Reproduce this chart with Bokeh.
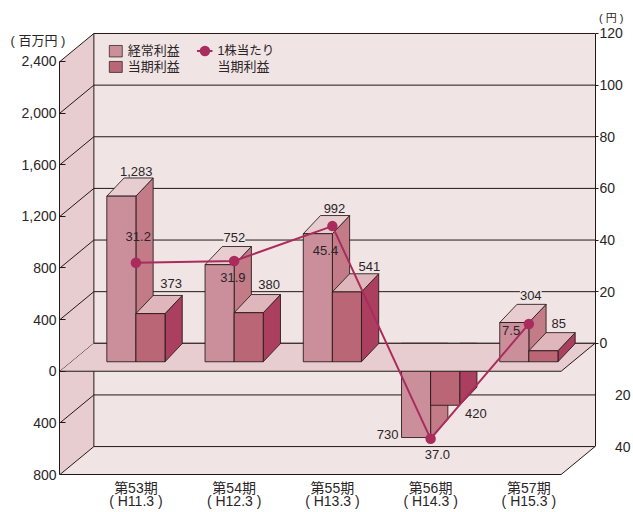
from bokeh.embed import file_html
from bokeh.resources import INLINE
from bokeh.plotting import figure
from bokeh.models import Range1d, LinearAxis, FixedTicker, Label, NumeralTickFormatter, Title

# ---- values ----
periods = ["第53期", "第54期", "第55期", "第56期", "第57期"]
fiscal = ["( H11.3 )", "( H12.3 )", "( H13.3 )", "( H14.3 )", "( H15.3 )"]
ordinary_profit = [1283, 752, 992, -730, 304]
net_profit = [373, 380, 541, -420, 85]
eps = [31.2, 31.9, 45.4, -37.0, 7.5]
left_ticks = [-800, -400, 0, 400, 800, 1200, 1600, 2000, 2400]
right_ticks = [-40, -20, 0, 20, 40, 60, 80, 100, 120]

# ---- palette ----
WALL = "#f1e4e5"
SIDE = "#e7cdd0"
BAR1_FRONT, BAR1_TOP, BAR1_SIDE = "#cb8f9c", "#e7cdd0", "#c27b87"
BAR2_FRONT, BAR2_TOP, BAR2_SIDE = "#ba6676", "#dfb6bc", "#aa3f5f"
LINE = "#a92c5c"
INK = "#231815"
TEXT = "#2b2527"
FONT = "Liberation Sans, Noto Sans CJK JP"

# ---- projection: x is in page pixels, y is in millions of yen on the front plane ----
PX_PER_M = 51.75 / 400
ZERO_ROW = 371.5
DEPTH_X, DEPTH_Y = 34, 28
FRONT_L, BACK_L, BACK_R = 59.5, 93.5, 596.5
FRONT_R = BACK_R - DEPTH_X
BAR_LEFT, BAR_STEP, BAR_W = 106.5, 98.6, 29.2
BAR_DX, BAR_DY = 17.3, 18.2
BASE_LIFT = 9.5


def row(pixel_y):
    return (ZERO_ROW - pixel_y) / PX_PER_M


def up(pixels):
    return pixels / PX_PER_M


p = figure(width=633, height=512, output_backend="svg", toolbar_location=None,
           x_axis_type=None, y_axis_type=None,
           x_range=Range1d(59, 597), y_range=Range1d(row(476), row(32)),
           min_border_left=59, min_border_right=36, min_border_top=32, min_border_bottom=36,
           background_fill_color="white", outline_line_color=None)
p.extra_y_ranges["eps"] = Range1d((row(476) - up(DEPTH_Y)) * PX_PER_M * 20 / 51.75,
                                  (row(32) - up(DEPTH_Y)) * PX_PER_M * 20 / 51.75)

# walls
top_back, bot_back = row(33), row(447)
p.patch([BACK_L, BACK_R, BACK_R, BACK_L], [top_back, top_back, bot_back, bot_back],
        fill_color=WALL, line_color=None)
p.patch([FRONT_L, BACK_L, BACK_L, FRONT_L], [2400, top_back, bot_back, -800],
        fill_color=SIDE, line_color=None)
p.patch([FRONT_L, BACK_L, BACK_R, FRONT_R], [-800, bot_back, bot_back, -800],
        fill_color=WALL, line_color=None)

# back wall levels on the per-share scale, side wall diagonals on the left scale
for lv in right_ticks:
    p.line([BACK_L, BACK_R], [lv, lv], y_range_name="eps", line_color=INK, line_width=1)
p.segment([FRONT_L] * len(left_ticks), left_ticks, [BACK_L] * len(left_ticks),
          [t + up(DEPTH_Y) for t in left_ticks], line_color=INK, line_width=1)
p.line([BACK_L, BACK_L], [top_back, bot_back], line_color=INK, line_width=1)


def box(x, w, base, height, front, top, side):
    """One extruded bar; base is the row offset of its footprint, height in millions."""
    y0, y1 = base, base + height
    hi = max(y0, y1)
    d_x, d_y = BAR_DX, up(BAR_DY)
    # a bar hanging below zero is hidden behind the floor from the floor's back edge upwards
    ceiling = up(DEPTH_Y) if height < 0 else y0 + d_y
    p.patch([x + w, x + w + d_x, x + w + d_x, x + w], [y1, y1 + d_y, ceiling, ceiling if height < 0 else y0],
            fill_color=side, line_color=INK, line_width=1, line_alpha=0.85)
    if height > 0:
        p.patch([x, x + d_x, x + w + d_x, x + w], [hi, hi + d_y, hi + d_y, hi],
                fill_color=top, line_color=INK, line_width=1, line_alpha=0.85)
    p.patch([x, x + w, x + w, x], [y0, y0, y1, y1],
            fill_color=front, line_color=INK, line_width=1, line_alpha=0.85)


# loss-making period sits behind the floor
for i, (a, b) in enumerate(zip(ordinary_profit, net_profit)):
    if a < 0:
        x = BAR_LEFT + BAR_STEP * i
        box(x, BAR_W, up(DEPTH_Y), a, BAR1_FRONT, BAR1_TOP, BAR1_SIDE)
        box(x + BAR_W, BAR_W, up(DEPTH_Y - 7.8), b, BAR2_FRONT, BAR2_TOP, BAR2_SIDE)

# floor at zero
p.patch([FRONT_L, BACK_L, BACK_R, FRONT_R], [0, up(DEPTH_Y), up(DEPTH_Y), 0],
        fill_color=SIDE, line_color=None)
p.line([BACK_L, BACK_R], [up(DEPTH_Y), up(DEPTH_Y)], line_color=INK, line_width=1)
p.line([FRONT_L, FRONT_R, BACK_R], [0, 0, up(DEPTH_Y)], line_color=INK, line_width=1)
p.line([FRONT_L, FRONT_R, BACK_R], [-800, -800, bot_back], line_color=INK, line_width=1)

for i, (a, b) in enumerate(zip(ordinary_profit, net_profit)):
    if a > 0:
        x = BAR_LEFT + BAR_STEP * i
        box(x, BAR_W, up(BASE_LIFT), a, BAR1_FRONT, BAR1_TOP, BAR1_SIDE)
        box(x + BAR_W, BAR_W, up(BASE_LIFT), b, BAR2_FRONT, BAR2_TOP, BAR2_SIDE)

# per-share line
line_x = [round(BAR_LEFT + BAR_W + BAR_STEP * i, 1) for i in range(len(eps))]
p.line(line_x, eps, y_range_name="eps", line_color=LINE, line_width=2)
p.scatter(line_x, eps, y_range_name="eps", size=10.5, marker="circle",
          fill_color=LINE, line_color=None)

# axes
left = LinearAxis(ticker=FixedTicker(ticks=left_ticks),
                  formatter=NumeralTickFormatter(format="0,0"),
                  major_label_overrides={-400: "400", -800: "800"},
                  bounds=(-800, 2400), axis_line_color=INK, major_tick_line_color=INK,
                  major_tick_in=6, major_tick_out=0, minor_tick_line_color=None,
                  major_label_standoff=3, major_label_text_font=FONT,
                  major_label_text_font_size="14px", major_label_text_color=TEXT)
p.add_layout(left, "left")

# only the positive side of the per-share scale carries tick marks; the labels below zero sit further out
right = LinearAxis(y_range_name="eps",
                   ticker=FixedTicker(ticks=right_ticks, minor_ticks=[t for t in right_ticks if t >= 0]),
                   major_label_overrides={-20: "\u00a0\u00a0\u00a0\u00a020", -40: "\u00a0\u00a0\u00a0\u00a040"},
                   bounds=(-40, 120), axis_line_color=INK, major_tick_line_color=None,
                   major_tick_in=0, major_tick_out=3, minor_tick_line_color=INK,
                   minor_tick_in=0, minor_tick_out=3,
                   major_label_standoff=1, major_label_text_font=FONT,
                   major_label_text_font_size="14px", major_label_text_color=TEXT)
p.add_layout(right, "right")

bottom = LinearAxis(ticker=FixedTicker(ticks=line_x),
                    major_label_overrides={x: f"{a}\n{b}" for x, a, b in zip(line_x, periods, fiscal)},
                    axis_line_color=None, major_tick_line_color=None, minor_tick_line_color=None,
                    major_tick_in=0, major_tick_out=0, major_label_standoff=4,
                    major_label_text_font=FONT, major_label_text_font_size="14px",
                    major_label_text_line_height=0.85, major_label_text_color=TEXT)
p.add_layout(bottom, "below")

# unit captions for the two scales
p.add_layout(Title(text="( 百万円 )", align="left", offset=-49, vertical_align="bottom", standoff=-30,
                   text_font=FONT, text_font_size="13px", text_font_style="normal", text_color=TEXT), "above")
p.add_layout(Title(text="( 円 )", align="right", offset=-28, vertical_align="bottom", standoff=18,
                   text_font=FONT, text_font_size="11px", text_font_style="normal", text_color=TEXT), "above")


def put(text, x, y, size=13, align="center", bg=None):
    lab = Label(x=x, y=row(y), text=text, text_font=FONT, text_font_size=f"{size}px",
                text_color=TEXT, text_align=align, text_baseline="middle")
    if bg:
        lab.background_fill_color = bg
    p.add_layout(lab)


# value labels
for s, x, y, bg in [("1,283", 136, 171, None), ("373", 171, 284, None),
                    ("752", 234.5, 237.5, WALL), ("380", 269.5, 284.5, None),
                    ("992", 335, 208.5, None), ("541", 370, 266.7, None),
                    ("730", 388.3, 434.7, None), ("420", 477, 414, None),
                    ("304", 532, 295.7, WALL), ("85", 560, 323.7, None),
                    ("31.2", 138, 236.7, None), ("31.9", 233, 277.7, None),
                    ("45.4", 326, 250, None), ("37.0", 438.3, 455.3, None),
                    ("7.5", 512.3, 331, None)]:
    put(s, x, y, bg=bg)

# legend
for y0, y1, colour in [(45, 56.5, BAR1_FRONT), (61, 72, BAR2_FRONT)]:
    p.patch([109, 122, 122, 109], [row(y0), row(y0), row(y1), row(y1)],
            fill_color=colour, line_color=INK, line_width=1, line_alpha=0.7)
p.line([197, 212.5], [row(50.5), row(50.5)], line_color=LINE, line_width=2)
p.scatter([205], [row(50.5)], size=10.5, marker="circle", fill_color=LINE, line_color=None)
put("経常利益", 127.5, 50.5, align="left")
put("当期利益", 127.5, 66, align="left")
put("1株当たり", 217.5, 50.5, size=12.5, align="left")
put("当期利益", 217.5, 66, align="left")

open("out.html", "w").write(file_html(p, INLINE))
